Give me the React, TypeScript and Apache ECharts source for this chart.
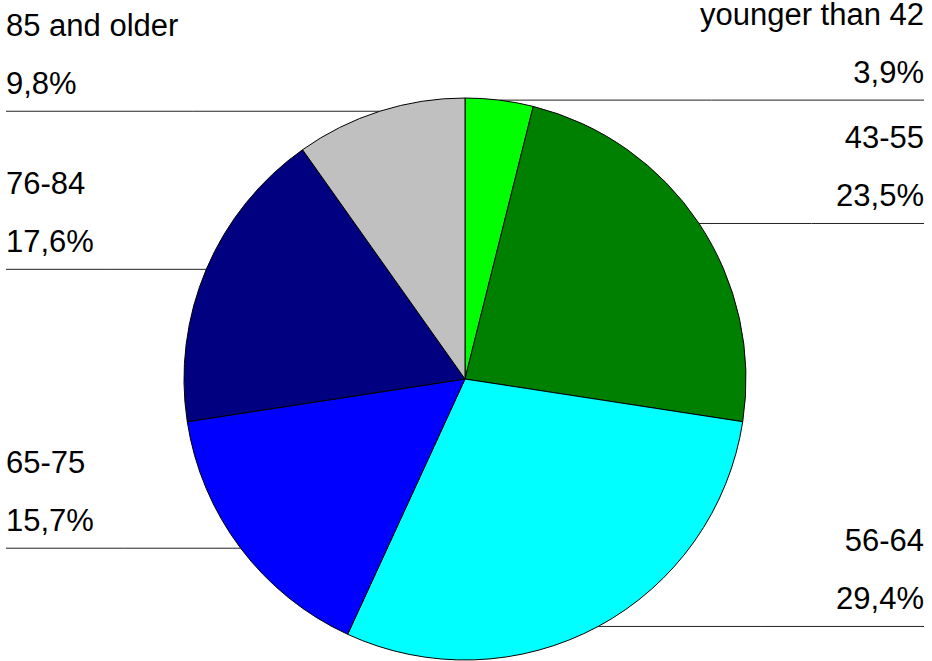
import React, { useEffect, useRef } from "react";
import * as echarts from "echarts";

const categories = ["younger than 42", "43-55", "56-64", "65-75", "76-84", "85 and older"];
const values = [3.9, 23.5, 29.4, 15.7, 17.6, 9.8];
const colors = ["#00FF00", "#008000", "#00FFFF", "#0000FF", "#000080", "#C0C0C0"];

const W = 932;
const H = 661;
const LEFT_EDGE = 6;
const RIGHT_EDGE = 924;

export default function App() {
  const ref = useRef<HTMLDivElement>(null);
  useEffect(() => {
    if (!ref.current) return;
    const chart = echarts.init(ref.current, undefined, { renderer: "svg" });
    const data = categories.map((c, i) => ({
      name: c,
      value: values[i],
      itemStyle: { color: colors[i] },
    }));
    chart.setOption({
      animation: false,
      backgroundColor: "#ffffff",
      series: [
        {
          type: "pie",
          center: [465, 379],
          radius: 281,
          startAngle: 90,
          clockwise: true,
          avoidLabelOverlap: false,
          data,
          itemStyle: { borderColor: "#000000", borderWidth: 1 },
          emphasis: { disabled: true },
          label: {
            show: true,
            color: "#000000",
            fontFamily: "'Liberation Sans', Arial, sans-serif",
            fontSize: 31,
            lineHeight: 58,
            formatter: (p: any) => `${p.name}\n${p.value.toFixed(1).replace(".", ",")}%`,
          },
          labelLine: {
            show: true,
            length: 10,
            length2: 10,
            lineStyle: { color: "#222222", width: 1 },
          },
          labelLayout: (params: any) => {
            const pts = params.labelLinePoints;
            if (!pts || !pts.length) return {};
            const p0 = pts[0];
            const isLeft = p0[0] < 465;
            const edgeX = isLeft ? LEFT_EDGE : RIGHT_EDGE;
            return {
              x: edgeX,
              y: p0[1] - 57,
              align: isLeft ? "left" : "right",
              verticalAlign: "middle",
              labelLinePoints: [
                [p0[0], p0[1]],
                [(p0[0] + edgeX) / 2, p0[1]],
                [edgeX, p0[1]],
              ],
            };
          },
        },
      ],
    });
    return () => chart.dispose();
  }, []);
  return (
    <div
      ref={ref}
      style={{ position: "absolute", left: 0, top: 0, width: W, height: H }}
    />
  );
}
